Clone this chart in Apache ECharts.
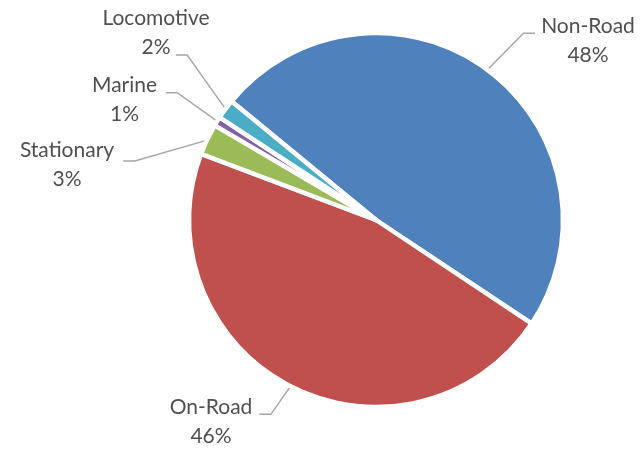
<!DOCTYPE html>
<html><head><meta charset="utf-8">
<script src="https://cdn.jsdelivr.net/npm/echarts@6/dist/echarts.min.js"></script>
<style>html,body{margin:0;padding:0;background:#fff}#c{width:642px;height:449px}</style>
</head><body><div id="c"></div>
<script>
// ---- data ----
const categories = ['Non-Road', 'On-Road', 'Stationary', 'Marine', 'Locomotive'];
const values = [48.4, 46.4, 2.7, 0.8, 1.7];
const colors = ['#4F81BD', '#C0504D', '#9BBB59', '#8064A2', '#4BACC6'];

// ---- layout (label placement, like the original's manual label positions) ----
const CX = 376, CY = 220, R = 187, START = 140.6;
const labelBox = [ // [textCenterX, textCenterY, lineEndX, lineEndY]
  [588, 40.5, 535, 33.3],
  [211, 421.5, 259.3, 414.3],
  [67, 165, 123.3, 161],
  [124.5, 100, 165.7, 92.7],
  [156, 33, 175.7, 55]
];

const total = values.reduce((a, b) => a + b, 0);
function anchorFor(i) {
  let before = 0;
  for (let k = 0; k < i; k++) before += values[k];
  const mid = START - (before + values[i] / 2) / total * 360;
  const a = mid * Math.PI / 180;
  return [CX + (R - 1) * Math.cos(a), CY - (R - 1) * Math.sin(a)];
}

const chart = echarts.init(document.getElementById('c'), null, { renderer: 'canvas' });
chart.setOption({
  animation: false,
  backgroundColor: '#fff',
  series: [{
    type: 'pie',
    center: [CX, CY],
    radius: R,
    startAngle: START,
    clockwise: true,
    avoidLabelOverlap: false,
    data: categories.map((c, i) => ({ name: c, value: values[i], itemStyle: { color: colors[i] } })),
    itemStyle: { borderColor: '#fff', borderWidth: 4.5 },
    label: {
      show: true,
      position: 'outside',
      formatter: p => p.name + '\n' + Math.round(p.percent) + '%',
      fontFamily: 'Lato',
      fontSize: 21,
      lineHeight: 29,
      color: '#505050',
      align: 'center'
    },
    labelLine: { show: true, length: 20, length2: 10, lineStyle: { color: '#A6A6A6', width: 1.4 } },
    labelLayout: function (params) {
      const i = params.dataIndex;
      const b = labelBox[i];
      const anchor = anchorFor(i);
      const elbowX = b[2] + (anchor[0] > b[2] ? 11.5 : -11.5);
      return {
        x: b[0], y: b[1], align: 'center', verticalAlign: 'middle',
        labelLinePoints: [anchor, [elbowX, b[3]], [b[2], b[3]]]
      };
    }
  }]
});
</script></body></html>
